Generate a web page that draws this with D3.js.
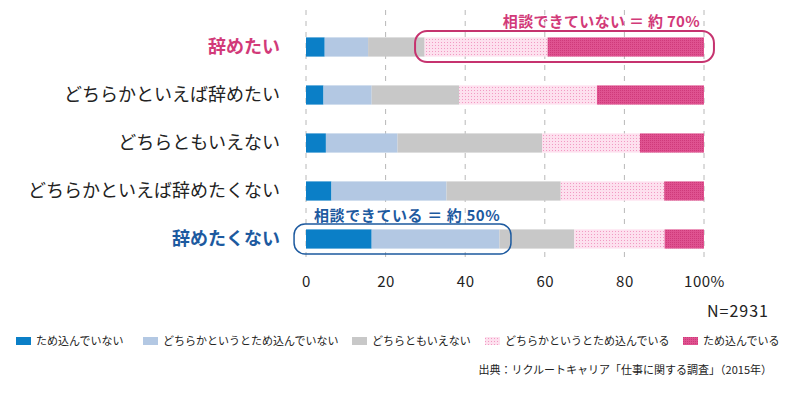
<!DOCTYPE html>
<html>
<head>
<meta charset="utf-8">
<script src="https://cdn.jsdelivr.net/npm/d3@7"></script>
<style>
  body { margin: 0; background: #fff; }
  text { font-family: "Noto Sans CJK JP", "Noto Sans", sans-serif; }
</style>
</head>
<body>
<div id="chart"></div>
<script>
// Data
const categories = ["辞めたい", "どちらかといえば辞めたい", "どちらともいえない", "どちらかといえば辞めたくない", "辞めたくない"];
const seriesNames = ["ため込んでいない", "どちらかというとため込んでいない", "どちらともいえない", "どちらかというとため込んでいる", "ため込んでいる"];
const notStoring = [4.7, 4.4, 5.0, 6.4, 16.5];
const ratherNotStoring = [10.9, 12.1, 18.0, 28.9, 32.1];
const neutral = [14.2, 22.0, 36.3, 28.7, 18.8];
const ratherStoring = [30.9, 34.6, 24.6, 26.0, 22.7];
const storing = [39.3, 26.9, 16.1, 10.0, 9.9];
const tickValues = [0, 20, 40, 60, 80, 100];

const W = 790, H = 394;
const svg = d3.select("#chart").append("svg")
    .attr("width", W).attr("height", H);

// patterns for pink segments
const defs = svg.append("defs");
const p1 = defs.append("pattern").attr("id", "lightPink")
    .attr("width", 3).attr("height", 3).attr("patternUnits", "userSpaceOnUse");
p1.append("rect").attr("width", 3).attr("height", 3).attr("fill", "#fde0ee");
p1.append("rect").attr("width", 1).attr("height", 1).attr("fill", "#f29ac3");
const p2 = defs.append("pattern").attr("id", "darkPink")
    .attr("width", 2).attr("height", 2).attr("patternUnits", "userSpaceOnUse");
p2.append("rect").attr("width", 2).attr("height", 2).attr("fill", "#df5290");
p2.append("rect").attr("width", 1).attr("height", 1).attr("fill", "#cf3a7a");

const colors = ["#0b7fc7", "#b3c8e3", "#c8c8c8", "url(#lightPink)", "url(#darkPink)"];

const x = d3.scaleLinear().domain([0, 100]).range([306, 704]);
const y = d3.scaleBand().domain(categories).range([23, 263])
    .paddingInner(0.6).paddingOuter(0.3);

// gridlines
svg.append("g").selectAll("line")
    .data(tickValues)
    .join("line")
    .attr("x1", d => x(d)).attr("x2", d => x(d))
    .attr("y1", 10).attr("y2", 263)
    .attr("stroke", "#b8b8b8")
    .attr("stroke-dasharray", "5,6");

// stack
const table = categories.map((c, i) => ({
    cat: c,
    s0: notStoring[i], s1: ratherNotStoring[i], s2: neutral[i], s3: ratherStoring[i], s4: storing[i]
}));
const stack = d3.stack().keys(["s0", "s1", "s2", "s3", "s4"])(table);

svg.append("g").selectAll("g")
    .data(stack)
    .join("g")
    .attr("fill", (d, i) => colors[i])
    .selectAll("rect")
    .data(d => d)
    .join("rect")
    .attr("x", d => x(d[0]))
    .attr("width", d => x(d[1]) - x(d[0]))
    .attr("y", d => y(d.data.cat))
    .attr("height", y.bandwidth());

// x axis
const axis = svg.append("g")
    .attr("transform", "translate(0,273)")
    .call(d3.axisBottom(x).tickValues(tickValues)
        .tickFormat(d => d === 100 ? "100%" : d).tickSize(0));
axis.select(".domain").remove();
axis.selectAll("text")
    .attr("font-size", 15)
    .attr("fill", "#222")
    .style("font-family", "'Noto Sans CJK JP', sans-serif")
    .attr("dy", "0.71em")
    .attr("letter-spacing", "0.5px");

// category labels
svg.append("g").selectAll("text")
    .data(categories)
    .join("text")
    .attr("x", 280)
    .attr("y", d => y(d) + y.bandwidth() / 2)
    .attr("dy", "0.35em")
    .attr("text-anchor", "end")
    .attr("font-size", 18)
    .attr("font-weight", (d, i) => (i === 0 || i === 4) ? 700 : 400)
    .attr("fill", (d, i) => i === 0 ? "#d23a79" : i === 4 ? "#1d5a9f" : "#222")
    .text(d => d);

// annotation boxes
const c0 = y(categories[0]) + y.bandwidth() / 2;
const c4 = y(categories[4]) + y.bandwidth() / 2;
svg.append("rect")
    .attr("x", x(27.4)).attr("y", c0 - 16)
    .attr("width", x(102.5) - x(27.4)).attr("height", 31)
    .attr("rx", 12)
    .attr("fill", "none")
    .attr("stroke", "#c6336f").attr("stroke-width", 2);
svg.append("text")
    .attr("x", 700).attr("y", 27)
    .attr("text-anchor", "end")
    .attr("font-size", 15).attr("font-weight", 700)
    .attr("letter-spacing", "0.3px")
    .attr("fill", "#d23a79")
    .text("相談できていない ＝ 約 70%");

svg.append("rect")
    .attr("x", x(-3)).attr("y", c4 - 15)
    .attr("width", x(51.5) - x(-3)).attr("height", 30)
    .attr("rx", 11)
    .attr("fill", "none")
    .attr("stroke", "#1d5a9f").attr("stroke-width", 1.5);
svg.append("text")
    .attr("x", 314).attr("y", 221)
    .attr("font-size", 15).attr("font-weight", 700)
    .attr("letter-spacing", "0.6px")
    .attr("fill", "#1d5a9f")
    .text("相談できている ＝ 約 50%");

// N
svg.append("text")
    .attr("x", 769).attr("y", 317)
    .attr("text-anchor", "end")
    .attr("font-size", 16)
    .attr("letter-spacing", "1px")
    .attr("fill", "#222")
    .text("N=2931");

// legend
const legendX = [16, 143, 352, 485, 683];
const legend = svg.append("g").selectAll("g")
    .data(seriesNames)
    .join("g")
    .attr("transform", (d, i) => `translate(${legendX[i]},341)`);
legend.append("rect")
    .attr("x", 0).attr("y", -4)
    .attr("width", 15).attr("height", 8)
    .attr("fill", (d, i) => colors[i]);
legend.append("text")
    .attr("x", 20).attr("dy", "0.35em")
    .attr("font-size", 11)
    .attr("fill", "#222")
    .text(d => d);

// source
svg.append("text")
    .attr("x", 772).attr("y", 374)
    .attr("text-anchor", "end")
    .attr("font-size", 11)
    .attr("fill", "#222")
    .text("出典：リクルートキャリア「仕事に関する調査」（2015年）");
</script>
</body>
</html>
